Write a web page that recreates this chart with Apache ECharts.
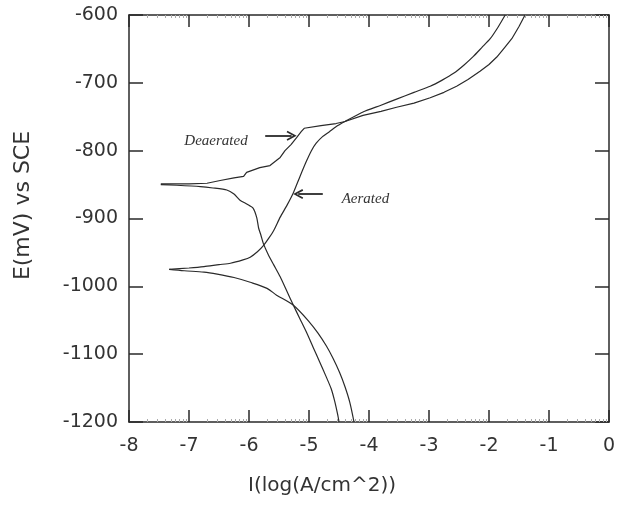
<!DOCTYPE html>
<html>
<head>
<meta charset="utf-8">
<script src="https://cdn.jsdelivr.net/npm/echarts@6/dist/echarts.min.js"></script>
<style>
  html, body { margin: 0; padding: 0; background: #fff; }
  #main { width: 621px; height: 508px; }
</style>
</head>
<body>
<div id="main"></div>
<script>
// [log(I), E] pairs, each branch from Ecorr outwards
const deaeratedAnodic = [
  [-7.47, -849], [-7.0, -849], [-6.70, -848], [-6.48, -844], [-6.25, -840], [-6.09, -838],
  [-6.04, -832], [-5.82, -825], [-5.65, -822], [-5.55, -815], [-5.48, -810], [-5.40, -800],
  [-5.30, -791], [-5.21, -781], [-5.13, -772], [-5.08, -767], [-4.80, -763], [-4.55, -760],
  [-4.40, -757], [-4.10, -748], [-3.80, -742], [-3.54, -736], [-3.25, -730], [-2.98, -722],
  [-2.75, -714], [-2.54, -705], [-2.35, -695], [-2.15, -683], [-2.00, -673], [-1.87, -662],
  [-1.74, -648], [-1.62, -635], [-1.50, -617], [-1.40, -600]
]
const deaeratedCathodic = [
  [-7.47, -850], [-7.2, -851], [-6.81, -853], [-6.60, -855], [-6.37, -858], [-6.25, -864],
  [-6.15, -873], [-6.03, -879], [-5.93, -885], [-5.87, -899], [-5.84, -914], [-5.80, -925],
  [-5.76, -937], [-5.68, -953], [-5.59, -968], [-5.48, -986], [-5.37, -1007], [-5.26, -1028],
  [-5.15, -1048], [-5.04, -1068], [-4.93, -1090], [-4.82, -1112], [-4.72, -1132], [-4.63, -1151],
  [-4.57, -1170], [-4.52, -1190], [-4.50, -1200]
]
const aeratedAnodic = [
  [-7.33, -975], [-7.0, -973], [-6.75, -971], [-6.50, -968], [-6.31, -966], [-6.10, -961],
  [-5.98, -957], [-5.86, -949], [-5.76, -940], [-5.67, -929], [-5.59, -918], [-5.48, -898],
  [-5.37, -881], [-5.26, -862], [-5.15, -838], [-5.04, -815], [-4.96, -800], [-4.88, -789],
  [-4.77, -779], [-4.66, -772], [-4.52, -763], [-4.40, -757], [-4.10, -743], [-3.80, -733],
  [-3.54, -724], [-3.25, -714], [-2.98, -705], [-2.78, -696], [-2.59, -686], [-2.42, -674],
  [-2.26, -661], [-2.12, -648], [-1.98, -635], [-1.85, -618], [-1.73, -600]
]
const aeratedCathodic = [
  [-7.33, -975], [-7.08, -977], [-6.75, -979], [-6.53, -982], [-6.25, -987], [-5.98, -994],
  [-5.70, -1003], [-5.54, -1013], [-5.26, -1028], [-4.99, -1053], [-4.85, -1069], [-4.71, -1088],
  [-4.60, -1106], [-4.49, -1127], [-4.40, -1148], [-4.32, -1171], [-4.25, -1200]
]

// annotations: label position and arrow [from, to]
const deaeratedLabel = [-6.55, -786]
const deaeratedArrow = [[-5.73, -778], [-5.29, -778]]
const aeratedLabel = [-4.06, -871]
const aeratedArrow = [[-4.77, -864], [-5.18, -864]]

const ink = '#2a2a2a'
const chevron = 'path://M0,9 L5,0 L10,9 L8.4,9.8 L5,3.4 L1.6,9.8 Z'
const font = 'DejaVu Sans'

let myChart = echarts.init(document.getElementById('main'))

function valueX(pos, showLabel) {
  return {
    type: 'value',
    position: pos,
    min: -8,
    max: 0,
    interval: 1,
    axisLine: { show: true, onZero: false, lineStyle: { color: ink, width: 1.5 } },
    axisTick: { show: true, inside: true, length: 12, lineStyle: { color: ink, width: 1.5 } },
    axisLabel: { show: showLabel, margin: 15, color: '#333', fontSize: 19, fontFamily: font },
    splitLine: { show: false }
  }
}

// faint per-decade minor ticks like the original log plot
function logX(pos) {
  return {
    type: 'log',
    position: pos,
    min: 1e-8,
    max: 1,
    logBase: 10,
    axisLine: { show: false },
    axisTick: { show: true, inside: true, length: 0.01, lineStyle: { color: '#fff', width: 0 } },
    axisLabel: { show: false },
    minorTick: { show: true, splitNumber: 9, length: 3, lineStyle: { color: '#aaa', width: 1 } },
    splitLine: { show: false },
    minorSplitLine: { show: false }
  }
}

function valueY(pos, showLabel) {
  return {
    type: 'value',
    position: pos,
    min: -1200,
    max: -600,
    interval: 100,
    axisLine: { show: true, onZero: false, lineStyle: { color: ink, width: 1.5 } },
    axisTick: { show: true, inside: true, length: 14, lineStyle: { color: ink, width: 1.5 } },
    axisLabel: {
      show: showLabel,
      margin: 11,
      color: '#333',
      fontSize: 19,
      fontFamily: font,
      formatter: function (v) { return String(v) }
    },
    splitLine: { show: false }
  }
}

function curve(name, data, smooth) {
  return {
    name: name,
    type: 'line',
    data: data,
    showSymbol: false,
    symbol: 'none',
    smooth: smooth,
    clip: true,
    lineStyle: { color: ink, width: 1.2 }
  }
}

// the scanned titles sit off-centre, padding nudges them
const xBottom = valueX('bottom', true)
xBottom.name = 'I(log(A/cm^2))'
xBottom.nameLocation = 'middle'
xBottom.nameGap = 54
xBottom.nameTextStyle = { color: '#333', fontSize: 20, fontFamily: font, padding: [0, 94, 0, 0] }

const yLeft = valueY('left', true)
yLeft.name = 'E(mV) vs SCE'
yLeft.nameLocation = 'middle'
yLeft.nameGap = 95
yLeft.nameTextStyle = { color: '#333', fontSize: 22, fontFamily: font, padding: [0, 0, 0, 26] }

const labelStyle = {
  show: true,
  position: 'inside',
  formatter: '{b}',
  color: '#333',
  fontSize: 15,
  fontStyle: 'italic',
  fontFamily: 'Liberation Serif'
}

const option = {
  backgroundColor: '#fff',
  animation: false,
  grid: { left: 129, right: 12, top: 15, bottom: 86, containLabel: false },
  xAxis: [xBottom, valueX('top', false), logX('bottom'), logX('top')],
  yAxis: [yLeft, valueY('right', false)],
  series: [
    curve('Deaerated anodic', deaeratedAnodic, false),
    curve('Deaerated cathodic', deaeratedCathodic, 0.2),
    curve('Aerated anodic', aeratedAnodic, 0.2),
    Object.assign(curve('Aerated cathodic', aeratedCathodic, 0.3), {
      markPoint: {
        symbol: 'circle',
        symbolSize: 0,
        label: labelStyle,
        data: [
          { name: 'Deaerated', coord: deaeratedLabel },
          { name: 'Aerated', coord: aeratedLabel }
        ]
      },
      markLine: {
        silent: true,
        symbol: ['none', chevron],
        symbolSize: 10,
        label: { show: false },
        lineStyle: { color: ink, width: 1.8, type: 'solid' },
        data: [
          [{ coord: deaeratedArrow[0] }, { coord: deaeratedArrow[1] }],
          [{ coord: aeratedArrow[0] }, { coord: aeratedArrow[1] }]
        ]
      }
    })
  ]
}
myChart.setOption(option)
</script>
</body>
</html>
